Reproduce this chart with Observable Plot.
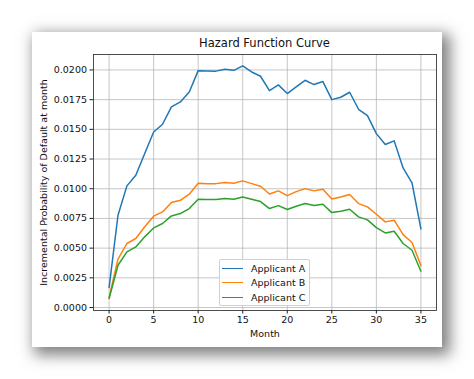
<!DOCTYPE html>
<html>
<head>
<meta charset="utf-8">
<script src="https://cdn.jsdelivr.net/npm/d3@7"></script>
<script src="https://cdn.jsdelivr.net/npm/@observablehq/plot@0.6"></script>
<style>
  html, body { margin: 0; padding: 0; background: #ffffff; width: 474px; height: 379px; overflow: hidden; }
  #card { position: absolute; left: 32px; top: 32px; width: 410px; height: 315px; background: #fff;
          box-shadow: 5px 5px 14px 3px rgba(0,0,0,0.5); }
  #title { position: absolute; left: 61px; width: 343px; top: 4px; text-align: center;
           font-family: "DejaVu Sans", sans-serif; font-size: 11.5px; color: #111; }
  #legend { position: absolute; left: 187px; top: 227px; width: 89px; height: 45px;
            background: rgba(255,255,255,0.85); border: 1px solid #d0d0d0; border-radius: 2px;
            font-family: "DejaVu Sans", sans-serif; font-size: 9.5px; color: #111; }
  .item { position: absolute; left: 2px; height: 12px; display: flex; align-items: center; }
  .sw { width: 21px; height: 0; border-top: 1.5px solid; margin-right: 8px; }
  svg { position: absolute; left: 0; top: 0; }
</style>
</head>
<body>
<div id="card">
  <div id="title"></div>
  <div id="chart"></div>
  <div id="legend"></div>
</div>
<script>
const title = "Hazard Function Curve";
const xLabel = "Month";
const yLabel = "Incremental Probability of Default at month";
const seriesNames = ["Applicant A", "Applicant B", "Applicant C"];
const seriesColors = ["#1f77b4", "#ff7f0e", "#2ca02c"];
const months = d3.range(0, 36);
const applicantA = [0.00168, 0.00777, 0.01024, 0.01114, 0.01296, 0.01478, 0.01543, 0.01689, 0.01731, 0.01815,
  0.01994, 0.01992, 0.01990, 0.02006, 0.01997, 0.02034, 0.01983, 0.01947, 0.01826, 0.01874,
  0.01801, 0.01857, 0.01913, 0.01877, 0.01902, 0.01750, 0.01770, 0.01812, 0.01669, 0.01616,
  0.01464, 0.01372, 0.01403, 0.01175, 0.01049, 0.00662];
const applicantB = [0.00085, 0.00407, 0.00539, 0.00581, 0.00680, 0.00769, 0.00805, 0.00884, 0.00903, 0.00954,
  0.01046, 0.01043, 0.01043, 0.01052, 0.01046, 0.01066, 0.01043, 0.01021, 0.00956, 0.00982,
  0.00942, 0.00976, 0.01001, 0.00982, 0.00996, 0.00914, 0.00931, 0.00951, 0.00875, 0.00847,
  0.00785, 0.00721, 0.00735, 0.00614, 0.00547, 0.00353];
const applicantC = [0.00076, 0.00356, 0.00468, 0.00510, 0.00595, 0.00670, 0.00707, 0.00771, 0.00791, 0.00833,
  0.00912, 0.00909, 0.00909, 0.00917, 0.00912, 0.00931, 0.00912, 0.00892, 0.00833, 0.00858,
  0.00825, 0.00853, 0.00875, 0.00858, 0.00870, 0.00799, 0.00810, 0.00827, 0.00763, 0.00738,
  0.00673, 0.00628, 0.00642, 0.00539, 0.00482, 0.00306];
const xTicks = [0, 5, 10, 15, 20, 25, 30, 35];
const yTicks = [0, 0.0025, 0.005, 0.0075, 0.01, 0.0125, 0.015, 0.0175, 0.02];

const seriesValues = [applicantA, applicantB, applicantC];
const data = seriesNames.flatMap((name, i) => months.map((m, j) => ({series: name, month: m, value: seriesValues[i][j]})));

document.getElementById("title").textContent = title;

const chart = Plot.plot({
  width: 410,
  height: 315,
  marginLeft: 61,
  marginRight: 6,
  marginTop: 22,
  marginBottom: 37,
  style: {fontFamily: "DejaVu Sans, sans-serif", fontSize: "9.5px", color: "#111", background: "transparent"},
  x: {domain: [-1.75, 36.75]},
  y: {domain: [-0.00025, 0.0213]},
  color: {domain: seriesNames, range: seriesColors},
  marks: [
    Plot.gridX(xTicks, {stroke: "#b0b0b0", strokeOpacity: 0.9, strokeWidth: 0.8}),
    Plot.gridY(yTicks, {stroke: "#b0b0b0", strokeOpacity: 0.9, strokeWidth: 0.8}),
    Plot.axisX(xTicks, {tickSize: 3.5, tickPadding: 2, stroke: "#222", label: xLabel, labelAnchor: "center", labelArrow: "none", labelOffset: 26}),
    Plot.axisY(yTicks, {tickSize: 3.5, tickPadding: 3, stroke: "#222", tickFormat: d3.format(".4f"), label: yLabel, labelAnchor: "center", labelArrow: "none", labelOffset: 53}),
    Plot.line(data, {x: "month", y: "value", z: "series", stroke: "series", strokeWidth: 1.5}),
    Plot.frame({stroke: "#222", strokeWidth: 0.8})
  ]
});
document.getElementById("chart").appendChild(chart);

const legend = document.getElementById("legend");
seriesNames.forEach((name, i) => {
  const it = document.createElement("div");
  it.className = "item";
  it.style.top = (2 + i * 14.5) + "px";
  const sw = document.createElement("div");
  sw.className = "sw";
  sw.style.borderTopColor = seriesColors[i];
  const tx = document.createElement("span");
  tx.textContent = name;
  it.appendChild(sw); it.appendChild(tx);
  legend.appendChild(it);
});
</script>
</body>
</html>
